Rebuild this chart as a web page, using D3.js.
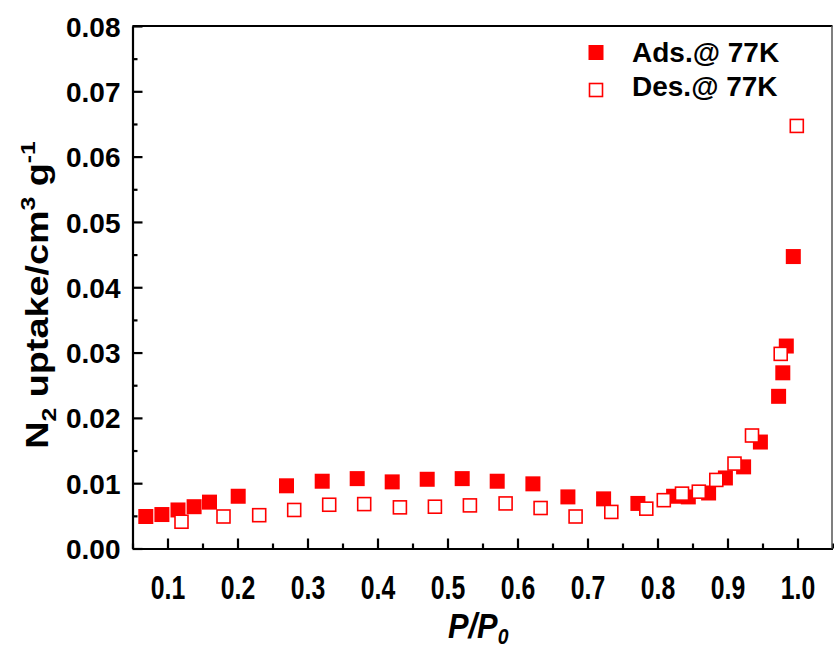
<!DOCTYPE html>
<html>
<head>
<meta charset="utf-8">
<script src="https://cdn.jsdelivr.net/npm/d3@7"></script>
<style>
  html, body { margin: 0; padding: 0; background: #fff; }
  svg { display: block; font-family: "Liberation Sans", Arial, sans-serif; }
</style>
</head>
<body>
<svg id="chart" width="834" height="649"></svg>
<script>
// ---- data ----
const adsP = [0.069, 0.092, 0.115, 0.138, 0.160, 0.201, 0.270, 0.321, 0.371, 0.421, 0.471, 0.521, 0.571, 0.622, 0.672, 0.723, 0.772, 0.823, 0.844, 0.873, 0.897, 0.923, 0.947, 0.973, 0.979, 0.984, 0.994];
const adsV = [0.0049, 0.0052, 0.0059, 0.0064, 0.0071, 0.0080, 0.0096, 0.0103, 0.0107, 0.0102, 0.0106, 0.0107, 0.0103, 0.0099, 0.0079, 0.0076, 0.0069, 0.0080, 0.0079, 0.0085, 0.0108, 0.0125, 0.0163, 0.0233, 0.0269, 0.0310, 0.0447];
const desP = [0.120, 0.180, 0.231, 0.281, 0.331, 0.381, 0.432, 0.482, 0.532, 0.583, 0.633, 0.683, 0.734, 0.784, 0.809, 0.835, 0.859, 0.884, 0.910, 0.935, 0.976, 0.999];
const desV = [0.0041, 0.0049, 0.0051, 0.0059, 0.0067, 0.0068, 0.0063, 0.0064, 0.0066, 0.0069, 0.0062, 0.0049, 0.0056, 0.0061, 0.0074, 0.0084, 0.0087, 0.0105, 0.0130, 0.0173, 0.0298, 0.0647];
const xTicks = [0.1, 0.2, 0.3, 0.4, 0.5, 0.6, 0.7, 0.8, 0.9, 1.0];
const yTicks = [0.00, 0.01, 0.02, 0.03, 0.04, 0.05, 0.06, 0.07, 0.08];
const legendLabels = ["Ads.@ 77K", "Des.@ 77K"];

const svg = d3.select("#chart");
const x = d3.scaleLinear().domain([0.05, 1.05]).range([132.5, 832.5]);
const y = d3.scaleLinear().domain([0, 0.08]).range([548.5, 26]);
const red = "#ff0000";

// minor ticks
const xMinor = d3.range(0, 11).map(i => 0.05 + i * 0.1);
const yMinor = d3.range(0, 8).map(i => 0.005 + i * 0.01);

// x axis (ticks inward)
const xAxis = svg.append("g").attr("transform", `translate(0,${y(0)})`)
  .call(d3.axisBottom(x).tickValues(xTicks).tickSize(-10).tickSizeOuter(0).tickPadding(0).tickFormat(d3.format(".1f")));
svg.append("g").attr("transform", `translate(0,${y(0)})`)
  .call(d3.axisBottom(x).tickValues(xMinor).tickSize(-5).tickSizeOuter(0).tickFormat(""))
  .select(".domain").remove();
xAxis.selectAll("text")
  .attr("x", 0).attr("y", 0).attr("dy", 0)
  .attr("font-size", 31).attr("font-weight", "bold").attr("fill", "#000")
  .attr("transform", "translate(0,50) scale(0.8,1.06)");

// y axis
const yAxis = svg.append("g").attr("transform", `translate(${x(0.05)},0)`)
  .call(d3.axisLeft(y).tickValues(yTicks).tickSize(-10).tickSizeOuter(0).tickPadding(12).tickFormat(d3.format(".2f")));
svg.append("g").attr("transform", `translate(${x(0.05)},0)`)
  .call(d3.axisLeft(y).tickValues(yMinor).tickSize(-5).tickSizeOuter(0).tickFormat(""))
  .select(".domain").remove();
yAxis.selectAll("text").attr("font-size", 28).attr("font-weight", "bold").attr("fill", "#000").attr("dy", "0.36em");

svg.selectAll(".domain").attr("stroke", "#000").attr("stroke-width", 2.2);
svg.selectAll(".tick line").attr("stroke", "#000").attr("stroke-width", 2.2);

// frame top and right
svg.append("line").attr("x1", x(0.05)).attr("x2", x(1.05)).attr("y1", y(0.08)).attr("y2", y(0.08)).attr("stroke", "#000").attr("stroke-width", 2.2);
svg.append("line").attr("x1", x(1.05) - 0.5).attr("x2", x(1.05) - 0.5).attr("y1", y(0.08)).attr("y2", y(0)).attr("stroke", "#555").attr("stroke-width", 1.5);

// data: adsorption (filled) then desorption (open on top)
const sF = 15, sO = 13;
svg.append("g").selectAll("rect").data(adsP.map((p, i) => [p, adsV[i]])).join("rect")
  .attr("x", d => x(d[0]) - sF / 2).attr("y", d => y(d[1]) - sF / 2)
  .attr("width", sF).attr("height", sF).attr("fill", red);
svg.append("g").selectAll("rect").data(desP.map((p, i) => [p, desV[i]])).join("rect")
  .attr("x", d => x(d[0]) - sO / 2).attr("y", d => y(d[1]) - sO / 2)
  .attr("width", sO).attr("height", sO).attr("fill", "#fff").attr("stroke", red).attr("stroke-width", 1.6);

// legend
const lg = svg.append("g");
lg.append("rect").attr("x", 596 - 7.5).attr("y", 52.5 - 7.5).attr("width", 15).attr("height", 15).attr("fill", red);
lg.append("rect").attr("x", 596 - 6.5).attr("y", 90 - 6.5).attr("width", 13).attr("height", 13).attr("fill", "#fff").attr("stroke", red).attr("stroke-width", 1.6);
lg.selectAll("text").data(legendLabels).join("text")
  .attr("x", 632).attr("y", (d, i) => 62 + i * 34)
  .attr("font-size", 28).attr("font-weight", "bold").attr("fill", "#000")
  .text(d => d);

// x title
const xt = svg.append("text").attr("transform", "translate(448,638) scale(0.88,1)")
  .attr("font-size", 35).attr("font-weight", "bold").attr("font-style", "italic").attr("fill", "#000");
xt.append("tspan").text("P/P");
xt.append("tspan").attr("font-size", 22).attr("dy", 6).text("0");

// y title
const yt = svg.append("text").attr("transform", "translate(48,295) rotate(-90) scale(1.18,1)")
  .attr("text-anchor", "middle")
  .attr("font-size", 32).attr("font-weight", "bold").attr("fill", "#000");
yt.append("tspan").text("N");
yt.append("tspan").attr("font-size", 21).attr("dy", 8).text("2");
yt.append("tspan").attr("dy", -8).text(" uptake/cm");
yt.append("tspan").attr("font-size", 21).attr("dy", -13).text("3");
yt.append("tspan").attr("dy", 13).text(" g");
yt.append("tspan").attr("font-size", 21).attr("dy", -13).text("-1");
</script>
</body>
</html>
